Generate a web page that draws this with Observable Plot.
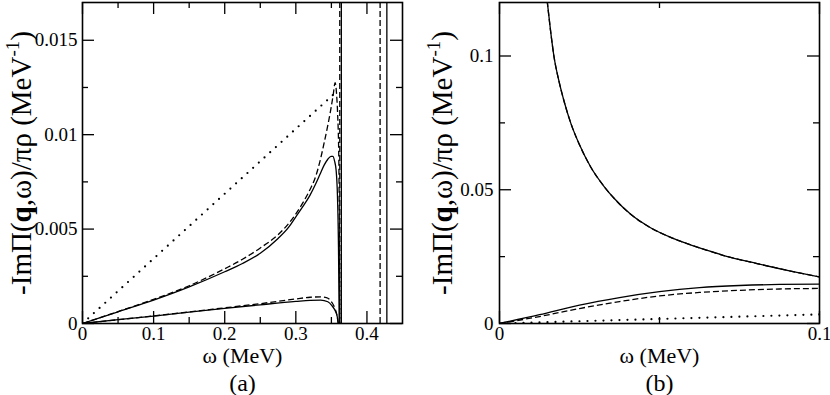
<!DOCTYPE html>
<html><head><meta charset="utf-8">
<script src="https://cdn.jsdelivr.net/npm/d3@7"></script>
<script src="https://cdn.jsdelivr.net/npm/@observablehq/plot@0.6"></script>
<style>
body{margin:0;background:#fff;}
#wrap{position:relative;width:830px;height:395px;overflow:hidden;background:#fff;}
#wrap svg{position:absolute;top:0;font-family:"Liberation Serif","Times New Roman",serif !important;}
#wrap svg text, #wrap svg tspan{font-family:"Liberation Serif","Times New Roman",serif !important;}
</style>
</head><body><div id="wrap"></div>
<script>
// ---------- Panel (a) data ----------
const aUpperSolidOmega = [0, 0.05, 0.1, 0.15, 0.2, 0.225, 0.25, 0.275, 0.29, 0.3, 0.31, 0.32, 0.328, 0.334, 0.34, 0.345, 0.3495, 0.352, 0.3545, 0.3567, 0.3585, 0.36, 0.361];
const aUpperSolidIm    = [0, 0.00062, 0.00124, 0.00194, 0.00274, 0.00318, 0.00372, 0.0045, 0.0051, 0.00565, 0.0062, 0.0068, 0.0074, 0.0079, 0.0084, 0.0087, 0.00885, 0.00885, 0.0086, 0.0081, 0.0068, 0.004, 0];
const aUpperDashedOmega = [0, 0.05, 0.1, 0.15, 0.2, 0.225, 0.25, 0.275, 0.29, 0.3, 0.31, 0.32, 0.328, 0.334, 0.34, 0.345, 0.349, 0.3525, 0.3553, 0.3572, 0.3586, 0.3605, 0.3618];
const aUpperDashedIm    = [0, 0.00063, 0.00128, 0.002, 0.0029, 0.0034, 0.004, 0.0047, 0.0053, 0.0058, 0.0064, 0.0071, 0.0078, 0.0086, 0.0096, 0.0105, 0.0113, 0.0121, 0.01275, 0.0122, 0.01125, 0.0086, 0];
const aLowerSolidOmega = [0, 0.05, 0.1, 0.15, 0.2, 0.25, 0.3, 0.32, 0.335, 0.345, 0.3507, 0.355, 0.358, 0.3598];
const aLowerSolidIm    = [0, 0.0002, 0.00039, 0.0006, 0.0008, 0.00099, 0.00117, 0.00123, 0.00124, 0.00115, 0.00095, 0.0007, 0.0004, 0];
const aLowerDashedOmega = [0, 0.05, 0.1, 0.15, 0.2, 0.25, 0.3, 0.32, 0.335, 0.343, 0.3507, 0.355, 0.358, 0.3595];
const aLowerDashedIm    = [0, 0.0002, 0.0004, 0.00061, 0.00083, 0.00105, 0.0013, 0.00139, 0.00141, 0.00137, 0.00112, 0.0008, 0.0004, 0];
const aDottedOmega = [0, 0.355];
const aDottedIm    = [0, 0.0122];
const aPoleSolid  = [0.364, 0.428];
const aPoleDashed = [0.3618, 0.4185];
const aXTicks = [0, 0.1, 0.2, 0.3, 0.4];
const aXMinor = [0.05, 0.15, 0.25, 0.35];
const aYTicks = [0, 0.005, 0.01, 0.015];
const aYMinor = [0.0025, 0.0075, 0.0125];

// ---------- Panel (b) data ----------
const bBigOmega = [0.0149, 0.016, 0.017, 0.0186, 0.0202, 0.0223, 0.025, 0.0285, 0.0327, 0.0358, 0.041, 0.0472, 0.0535, 0.0571, 0.065, 0.0701, 0.0805, 0.091, 0.1];
const bBigIm    = [0.1206, 0.109, 0.1, 0.0905, 0.083, 0.0748, 0.0668, 0.0585, 0.0512, 0.0468, 0.0408, 0.0358, 0.0322, 0.0305, 0.0273, 0.0254, 0.0224, 0.0196, 0.0174];
const bLowSolidOmega = [0, 0.0125, 0.025, 0.0375, 0.05, 0.0625, 0.075, 0.0875, 0.1];
const bLowSolidIm    = [0, 0.0033, 0.0069, 0.0097, 0.0119, 0.0134, 0.0142, 0.0146, 0.0147];
const bLowDashedOmega = [0, 0.0125, 0.025, 0.0375, 0.05, 0.0625, 0.075, 0.0875, 0.1];
const bLowDashedIm    = [0, 0.0026, 0.0056, 0.0082, 0.0103, 0.0116, 0.0124, 0.0129, 0.0131];
const bDottedOmega = [0, 0.1];
const bDottedIm    = [0, 0.0034];
const bXTicks = [0, 0.1];
const bXMinor = [0.05];
const bYTicks = [0, 0.05, 0.1];
const bYMinor = [0.025, 0.075];

const xLabel = "ω (MeV)";
const yLabelParts = ["-ImΠ(", "q", ",ω)/πρ (MeV", "-1", ")"];

const rows = (xs, ys) => xs.map((x, i) => ({x, y: ys[i]}));

const W = 415, H = 395, MT = 2, MB = 72;
const FONT = "'Liberation Serif','Times New Roman',serif";

function panel(cfg) {
  const ph = H - MT - MB;
  const pw = W - cfg.ml - cfg.mr;
  const marks = [];
  for (const s of cfg.lines) {
    marks.push(Plot.line(s.data, {x: "x", y: "y", stroke: "#000", strokeWidth: s.width ?? 1.3,
      strokeDasharray: s.dash, strokeLinecap: s.cap ?? "butt", curve: s.curve ?? "monotone-x", clip: true}));
  }
  if (cfg.poleSolid) marks.push(Plot.ruleX(cfg.poleSolid, {stroke: "#000", strokeWidth: 1.3}));
  if (cfg.poleDashed) marks.push(Plot.ruleX(cfg.poleDashed, {stroke: "#000", strokeWidth: 1.3, strokeDasharray: "6,3"}));
  const tk = {stroke: "#000", strokeWidth: 1.3};
  marks.push(Plot.tickX(cfg.xTicks, {...tk, insetTop: ph - 12}));
  marks.push(Plot.tickX(cfg.xTicks, {...tk, insetBottom: ph - 12}));
  marks.push(Plot.tickX(cfg.xMinor, {...tk, insetTop: ph - 6}));
  marks.push(Plot.tickX(cfg.xMinor, {...tk, insetBottom: ph - 6}));
  marks.push(Plot.tickY(cfg.yTicks, {...tk, insetRight: pw - 12}));
  marks.push(Plot.tickY(cfg.yTicks, {...tk, insetLeft: pw - 12}));
  marks.push(Plot.tickY(cfg.yMinor, {...tk, insetRight: pw - 6}));
  marks.push(Plot.tickY(cfg.yMinor, {...tk, insetLeft: pw - 6}));
  marks.push(Plot.frame({stroke: "#000", strokeWidth: 1.6}));
  marks.push(Plot.axisX(cfg.xTicks, {tickSize: 0, tickPadding: 3, tickFormat: d => String(d), label: null, fontSize: 19}));
  marks.push(Plot.axisY(cfg.yTicks, {tickSize: 0, tickPadding: cfg.ypad, tickFormat: d => String(d), label: null, fontSize: 19}));
  marks.push(Plot.text([xLabel], {frameAnchor: "bottom", text: d => d, dy: 32, lineAnchor: "middle", textAnchor: "middle", fontSize: 22}));
  marks.push(Plot.text([cfg.tag], {frameAnchor: "bottom", text: d => d, dy: 60, lineAnchor: "middle", textAnchor: "middle", fontSize: 24}));
  marks.push(Plot.text(["ylabel"], {frameAnchor: "left", text: d => d, rotate: -90, dx: cfg.ylabDx, lineAnchor: "middle", textAnchor: "middle", fontSize: 29}));
  const svg = Plot.plot({
    width: W, height: H, marginLeft: cfg.ml, marginRight: cfg.mr, marginTop: MT, marginBottom: MB,
    x: {domain: cfg.xDomain, axis: null},
    y: {domain: cfg.yDomain, axis: null},
    style: {fontFamily: FONT, fontSize: "19px", background: "white", color: "#000"},
    marks
  });
  const t = d3.select(svg).selectAll("text").filter(function () { return this.textContent === "ylabel"; });
  t.text(null);
  t.append("tspan").text(yLabelParts[0]);
  t.append("tspan").attr("font-weight", "bold").text(yLabelParts[1]);
  t.append("tspan").text(yLabelParts[2]);
  t.append("tspan").attr("dy", -12).attr("font-size", "19px").text(yLabelParts[3]);
  t.append("tspan").attr("dy", 12).text(yLabelParts[4]);
  svg.style.left = cfg.left + "px";
  return svg;
}

const wrap = document.getElementById("wrap");
wrap.appendChild(panel({
  left: 0, ml: 82, mr: 13, ypad: 5, ylabDx: -61, tag: "(a)",
  xDomain: [0, 0.45], yDomain: [0, 0.017],
  xTicks: aXTicks, xMinor: aXMinor, yTicks: aYTicks, yMinor: aYMinor,
  poleSolid: aPoleSolid, poleDashed: aPoleDashed,
  lines: [
    {data: rows(aDottedOmega, aDottedIm), width: 2.2, dash: "0,7.7", cap: "round", curve: "linear"},
    {data: rows(aUpperSolidOmega, aUpperSolidIm)},
    {data: rows(aUpperDashedOmega, aUpperDashedIm), dash: "6,3"},
    {data: rows(aLowerSolidOmega, aLowerSolidIm)},
    {data: rows(aLowerDashedOmega, aLowerDashedIm), dash: "6,3"}
  ]
}));
wrap.appendChild(panel({
  left: 415, ml: 84, mr: 11, ypad: 6, ylabDx: -57, tag: "(b)",
  xDomain: [0, 0.1], yDomain: [0, 0.12],
  xTicks: bXTicks, xMinor: bXMinor, yTicks: bYTicks, yMinor: bYMinor,
  lines: [
    {data: rows(bDottedOmega, bDottedIm), width: 2.2, dash: "0,8", cap: "round", curve: "linear"},
    {data: rows(bBigOmega, bBigIm)},
    {data: rows(bBigOmega, bBigIm), dash: "6,3"},
    {data: rows(bLowSolidOmega, bLowSolidIm)},
    {data: rows(bLowDashedOmega, bLowDashedIm), dash: "6,3"}
  ]
}));
</script>
</body></html>
